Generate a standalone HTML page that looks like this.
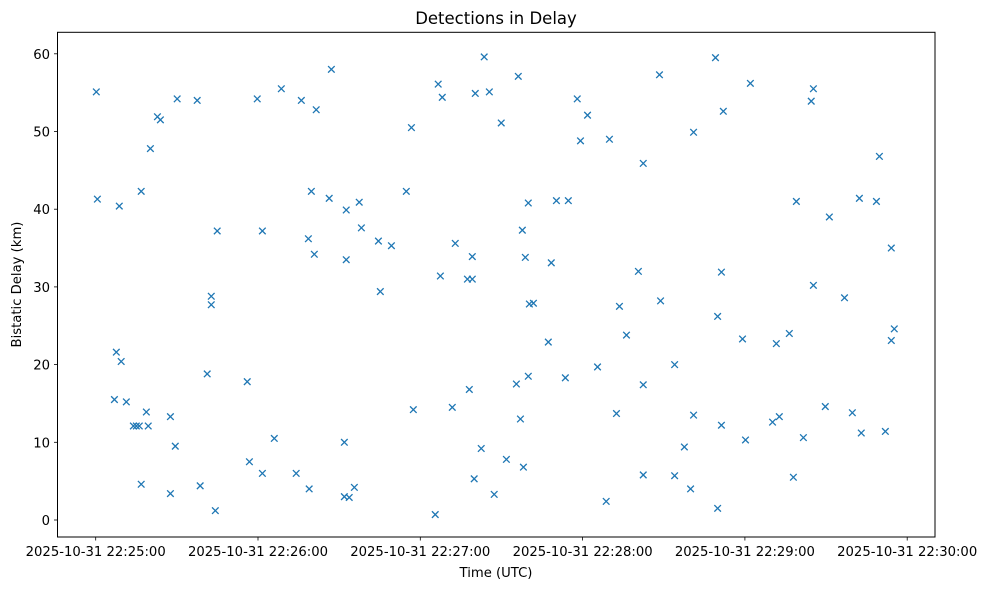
<!DOCTYPE html>
<html><head><meta charset="utf-8">
<style>
body{margin:0;background:#fff;}
svg{display:block;font-family:"DejaVu Sans","Liberation Sans",sans-serif;}
</style></head>
<body>
<svg id="chart" width="986" height="590" viewBox="0 0 986 590" xmlns="http://www.w3.org/2000/svg">
<rect width="986" height="590" fill="#fff"/>
<text x="496" y="24" text-anchor="middle" font-size="16.5" fill="#000">Detections in Delay</text>
<g id="marks"></g>
<g id="axes"></g>
<rect x="57.5" y="32.3" width="877.5" height="504.7" fill="none" stroke="#000" stroke-width="1"/>
<text x="496" y="577" text-anchor="middle" font-size="13.2">Time (UTC)</text>
<text transform="translate(21,284.5) rotate(-90)" text-anchor="middle" font-size="13.2">Bistatic Delay (km)</text>
</svg>
<script>
// seconds after 2025-10-31 22:25:00
const timeSec = [0,0.4,6.7,7.4,8.5,9.2,11.1,13.7,14.8,15.9,19.2,16.6,16.6,18.5,20,22.6,23.7,27.4,27.4,29.2,29.9,37.3,38.4,41,42.5,42.5,44,44.7,55.8,56.6,59.5,61.4,61.4,65.8,68.4,73.9,75.8,78.4,78.7,79.5,80.6,81.3,86.1,86.9,91.7,91.7,92.4,92.4,93.5,95.4,97.2,98,104.3,105,109.1,114.6,116.5,117.2,125.3,126.4,127.2,127.9,131.6,132.7,137.2,137.9,139,139,139.7,140.1,142.3,143.4,145.3,147.1,149.7,151.6,155.3,156,156.8,157.5,157.9,158.6,159.7,159.7,160.1,161.6,167.1,168.2,170.1,173.4,174.5,177.8,179,181.6,185.3,188.5,189.7,192.3,193.4,196,200.4,202.2,202.2,202.2,208.2,208.6,213.8,213.8,217.4,219.7,220.8,220.8,228.9,229.7,229.7,231.1,231.1,231.8,238.9,240,241.8,250,251.4,252.5,256.2,257.7,258.8,261.4,264.3,265.1,265.1,269.5,271,276.6,279.5,282.1,282.8,288.4,289.5,291.7,293.9,293.9,295];
const delayKm = [55.1,41.3,15.5,21.6,40.4,20.4,15.2,12.1,12.1,12.1,12.1,42.3,4.6,13.9,47.8,51.9,51.5,13.3,3.4,9.5,54.2,54.0,4.4,18.8,28.8,27.7,1.2,37.2,17.8,7.5,54.2,37.2,6.0,10.5,55.5,6.0,54.0,36.2,4.0,42.3,34.2,52.8,41.4,58.0,10.0,3.0,39.9,33.5,2.9,4.2,40.9,37.6,35.9,29.4,35.3,42.3,50.5,14.2,0.7,56.1,31.4,54.4,14.5,35.6,31.0,16.8,31.0,33.9,5.3,54.9,9.2,59.6,55.1,3.3,51.1,7.8,17.5,57.1,13.0,37.3,6.8,33.8,40.8,18.5,27.8,27.9,22.9,33.1,41.1,18.3,41.1,54.2,48.8,52.1,19.7,2.4,49.0,13.7,27.5,23.8,32.0,17.4,45.9,5.8,57.3,28.2,5.7,20.0,9.4,4.0,13.5,49.9,59.5,26.2,1.5,12.2,31.9,52.6,23.3,10.3,56.2,12.6,22.7,13.3,24.0,5.5,41.0,10.6,53.9,55.5,30.2,14.6,39.0,28.6,13.8,41.4,11.2,41.0,46.8,11.4,35.0,23.1,24.6];
const xTickSec = [0,60,120,180,240,300];
const xTickLabels = ["2025-10-31 22:25:00","2025-10-31 22:26:00","2025-10-31 22:27:00","2025-10-31 22:28:00","2025-10-31 22:29:00","2025-10-31 22:30:00"];
const yTicks = [0,10,20,30,40,50,60];

const NS="http://www.w3.org/2000/svg";
function xScale(s){return 96.3 + s*162.3/60;}
function yScale(v){return 520 - v*7.77;}
const marks=document.getElementById('marks');
const axes=document.getElementById('axes');
function mk(tag,attrs,parent){const e=document.createElementNS(NS,tag);for(const k in attrs)e.setAttribute(k,attrs[k]);parent.appendChild(e);return e;}
for(let i=0;i<timeSec.length;i++){
  const cx=xScale(timeSec[i]), cy=yScale(delayKm[i]), r=3.3;
  const p=mk('path',{d:`M${cx-r},${cy-r}L${cx+r},${cy+r}M${cx-r},${cy+r}L${cx+r},${cy-r}`,stroke:'#1f77b4','stroke-width':1.3,fill:'none'},marks);
  
  
}
xTickSec.forEach((s,i)=>{
  const x=95.7 + s*162.3/60;
  const t=mk('line',{x1:x,x2:x,y1:537,y2:540.5,stroke:'#000','stroke-width':0.8},axes);
  
  
  const l=mk('text',{x:x,y:556,'text-anchor':'middle','font-size':13.2},axes);
  l.textContent=xTickLabels[i];
  
  
});
yTicks.forEach(v=>{
  const y=yScale(v);
  const t=mk('line',{x1:54,x2:57.5,y1:y,y2:y,stroke:'#000','stroke-width':0.8},axes);
  
  
  const l=mk('text',{x:50,y:y+5,'text-anchor':'end','font-size':13.2},axes);
  l.textContent=String(v);
  
  
});
</script>
</body></html>
